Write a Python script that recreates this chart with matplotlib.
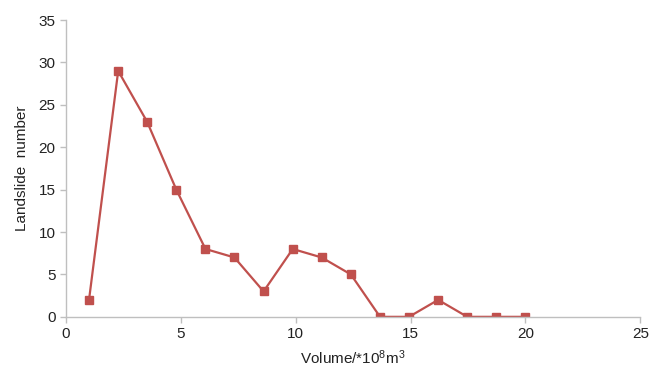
import matplotlib
matplotlib.use("Agg")
import matplotlib.pyplot as plt

plt.rcParams["font.family"] = ["Liberation Sans", "DejaVu Sans"]
plt.rcParams["mathtext.fontset"] = "custom"
plt.rcParams["mathtext.rm"] = "Liberation Sans"
plt.rcParams["mathtext.default"] = "regular"

# volume bins (x) and landslide counts (y)
volume = [1.0, 2.27, 3.53, 4.8, 6.07, 7.33, 8.6, 9.87, 11.13, 12.4,
          13.67, 14.93, 16.2, 17.47, 18.73, 20.0]
count = [2, 29, 23, 15, 8, 7, 3, 8, 7, 5, 0, 0, 2, 0, 0, 0]

x_ticks = [0, 5, 10, 15, 20, 25]
y_ticks = [0, 5, 10, 15, 20, 25, 30, 35]

fig = plt.figure(figsize=(6.54, 3.71), dpi=100)
ax = fig.add_axes([0.101, 0.146, 0.878, 0.8])

ax.plot(volume, count, color="#C0504D", linewidth=1.6,
        marker="s", markersize=5.5, markerfacecolor="#C0504D",
        markeredgecolor="#C0504D")

ax.set_xlim(0, 25)
ax.set_ylim(0, 35)
ax.set_xticks(x_ticks)
ax.set_yticks(y_ticks)

for side in ["top", "right"]:
    ax.spines[side].set_visible(False)
for side in ["left", "bottom"]:
    ax.spines[side].set_color("#BFBFBF")
    ax.spines[side].set_linewidth(1.0)

ax.tick_params(axis="both", colors="#BFBFBF", labelcolor="#222222",
               labelsize=11, length=4, width=1.0, direction="out")

ax.set_xlabel("Volume/*10$^{8}$m$^{3}$", fontsize=11, color="#222222", labelpad=5)
ax.set_ylabel("Landslide  number", fontsize=11, color="#222222", labelpad=7)

fig.savefig("out.png", dpi=100)
